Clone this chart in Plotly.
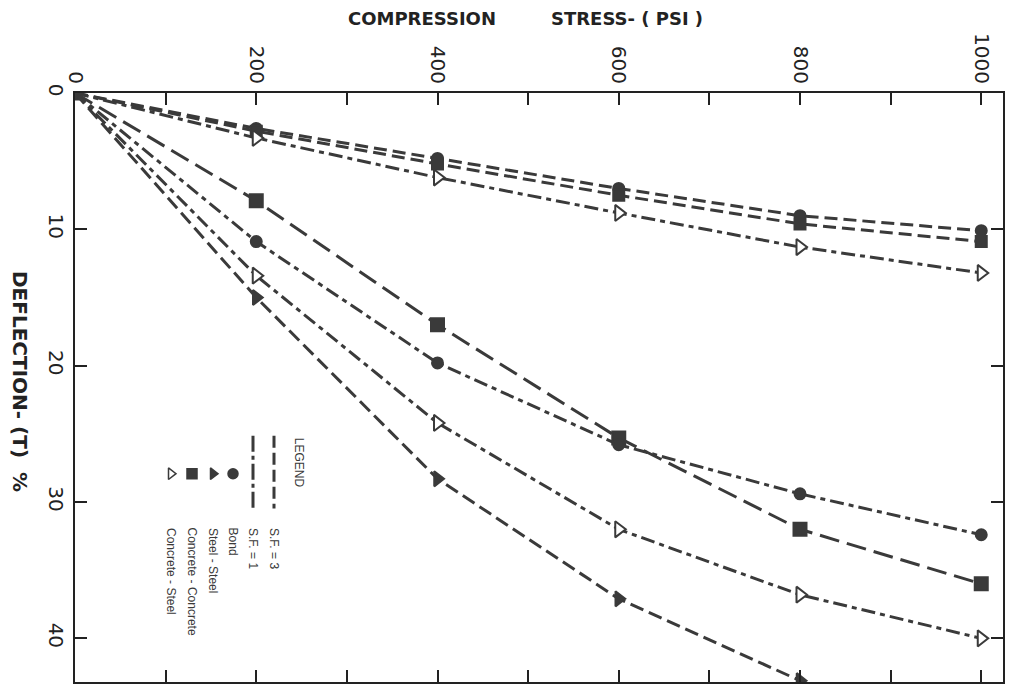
import plotly.graph_objects as go

# ---- data ----
stress = [0, 200, 400, 600, 800, 1000]          # psi
stress_ss = [0, 200, 400, 600, 800]

# upper group (small deflection)
bond_a = [0, 2.6, 4.8, 7.0, 9.0, 10.1]
cc_a = [0, 2.8, 5.2, 7.5, 9.6, 10.9]
cs_a = [0, 3.3, 6.2, 8.8, 11.3, 13.2]

# lower group (large deflection)
cc_b = [0, 7.9, 17.0, 25.3, 32.0, 36.0]
bond_b = [0, 10.9, 19.8, 25.8, 29.4, 32.4]
cs_b = [0, 13.4, 24.2, 32.0, 36.8, 40.0]
ss_b = [0, 15.0, 28.3, 37.1, 43.1]

x_ticks = [0, 100, 200, 300, 400, 500, 600, 700, 800, 900, 1000]
x_labels = ["0", "", "200", "", "400", "", "600", "", "800", "", "1000"]
y_ticks = [0, 10, 20, 30, 40]
y_labels = ["0", "10", "20", "30", "40"]

legend_lines = ["S.F. = 3", "S.F. = 1"]
legend_marks = ["Bond", "Steel - Steel", "Concrete - Concrete", "Concrete - Steel"]

INK = "#3a3a3a"
AX = "#222222"

# plot area in pixels
W, H = 1015, 693
L, R, T, B = 75, 1003, 93, 684


def px_x(px):
    return (px - L) / (R - L)


def px_y(py):
    return 1 - (py - T) / (B - T)


fig = go.Figure()

DASH_A = "13px,6px"
DASH_DOT = "14px,5px,5px,5px"
LONG = "20px,8px"


def add(xs, ys, dash, symbol, size=12, hollow=False):
    fig.add_trace(go.Scatter(
        x=xs, y=ys, mode="lines+markers",
        line=dict(color=INK, width=3, dash=dash),
        marker=dict(symbol=symbol, size=size,
                    color="white" if hollow else INK,
                    line=dict(color=INK, width=2)),
        showlegend=False, hoverinfo="skip"))


add(stress, bond_a, DASH_A, "circle", 11)
add(stress, cc_a, DASH_A, "square", 11)
add(stress, cs_a, DASH_DOT, "triangle-right", 14, True)
add(stress, cc_b, LONG, "square", 13)
add(stress, bond_b, DASH_DOT, "circle", 11)
add(stress, cs_b, DASH_DOT, "triangle-right", 14, True)
add(stress_ss, ss_b, "14px,6px", "triangle-right", 13)

# ---- legend drawn on an overlay frame ----
leg_line_x = [274, 253]
leg_line_dash = ["12px,5px", "16px,4px,4px,4px"]
for lx, dsh in zip(leg_line_x, leg_line_dash):
    fig.add_trace(go.Scatter(
        x=[px_x(lx), px_x(lx)], y=[px_y(437), px_y(510)],
        xaxis="x2", yaxis="y2", mode="lines",
        line=dict(color=INK, width=3, dash=dsh),
        showlegend=False, hoverinfo="skip"))

leg_mark_x = [233, 213, 192, 171]
leg_mark_sym = ["circle", "triangle-right", "square", "triangle-right"]
leg_mark_hollow = [False, False, False, True]
for mx, sym, hol in zip(leg_mark_x, leg_mark_sym, leg_mark_hollow):
    fig.add_trace(go.Scatter(
        x=[px_x(mx)], y=[px_y(475)], xaxis="x2", yaxis="y2", mode="markers",
        marker=dict(symbol=sym, size=10,
                    color="white" if hol else INK,
                    line=dict(color=INK, width=1.5)),
        showlegend=False, hoverinfo="skip"))

LFONT = dict(size=12, color=INK, family="Liberation Sans")
ann = []
ann.append(dict(text="LEGEND", x=px_x(299), y=px_y(437), xref="paper", yref="paper",
                xanchor="center", yanchor="top", textangle=90, showarrow=False,
                font=LFONT))
for lx, t in zip(leg_line_x, legend_lines):
    ann.append(dict(text=t, x=px_x(lx), y=px_y(527), xref="paper", yref="paper",
                    xanchor="center", yanchor="top", textangle=90, showarrow=False,
                    font=LFONT))
for mx, t in zip(leg_mark_x, legend_marks):
    ann.append(dict(text=t, x=px_x(mx), y=px_y(527), xref="paper", yref="paper",
                    xanchor="center", yanchor="top", textangle=90, showarrow=False,
                    font=LFONT))

# axis titles (positions given in page pixels, converted to plot-area paper units)
TFONT = dict(size=18, color=AX, family="DejaVu Sans", weight="bold")
ann.append(dict(text="COMPRESSION", x=px_x(422), y=px_y(18), xref="paper", yref="paper",
                xanchor="center", yanchor="middle", showarrow=False, font=TFONT))
ann.append(dict(text="STRESS- ( PSI )", x=px_x(627), y=px_y(18), xref="paper", yref="paper",
                xanchor="center", yanchor="middle", showarrow=False, font=TFONT))
ann.append(dict(text="DEFLECTION- (T)  %", x=px_x(20), y=px_y(382), xref="paper", yref="paper",
                xanchor="center", yanchor="middle", textangle=90, showarrow=False,
                font=dict(size=20, color=AX, family="DejaVu Sans", weight="bold")))

fig.update_layout(
    width=W, height=H,
    margin=dict(l=L, r=W - R, t=T, b=H - B),
    paper_bgcolor="white", plot_bgcolor="white",
    showlegend=False,
    annotations=ann,
    xaxis=dict(range=[0, 1024], side="top", tickmode="array",
               tickvals=x_ticks, ticktext=x_labels, tickangle=90,
               ticks="inside", ticklen=12, tickwidth=2, tickcolor=AX,
               showline=True, linecolor=AX, linewidth=2, mirror="ticks",
               showgrid=False, zeroline=False,
               tickfont=dict(size=20, color=AX, family="DejaVu Sans")),
    yaxis=dict(range=[43.2, 0], tickmode="array", tickvals=y_ticks, ticktext=y_labels,
               tickangle=90, ticks="inside", ticklen=12, tickwidth=2, tickcolor=AX,
               showline=True, linecolor=AX, linewidth=2, mirror="ticks",
               showgrid=False, zeroline=False,
               tickfont=dict(size=20, color=AX, family="DejaVu Sans")),
    xaxis2=dict(range=[0, 1], overlaying="x", visible=False, fixedrange=True),
    yaxis2=dict(range=[0, 1], overlaying="y", visible=False, fixedrange=True),
)

fig.write_html("out.html")
